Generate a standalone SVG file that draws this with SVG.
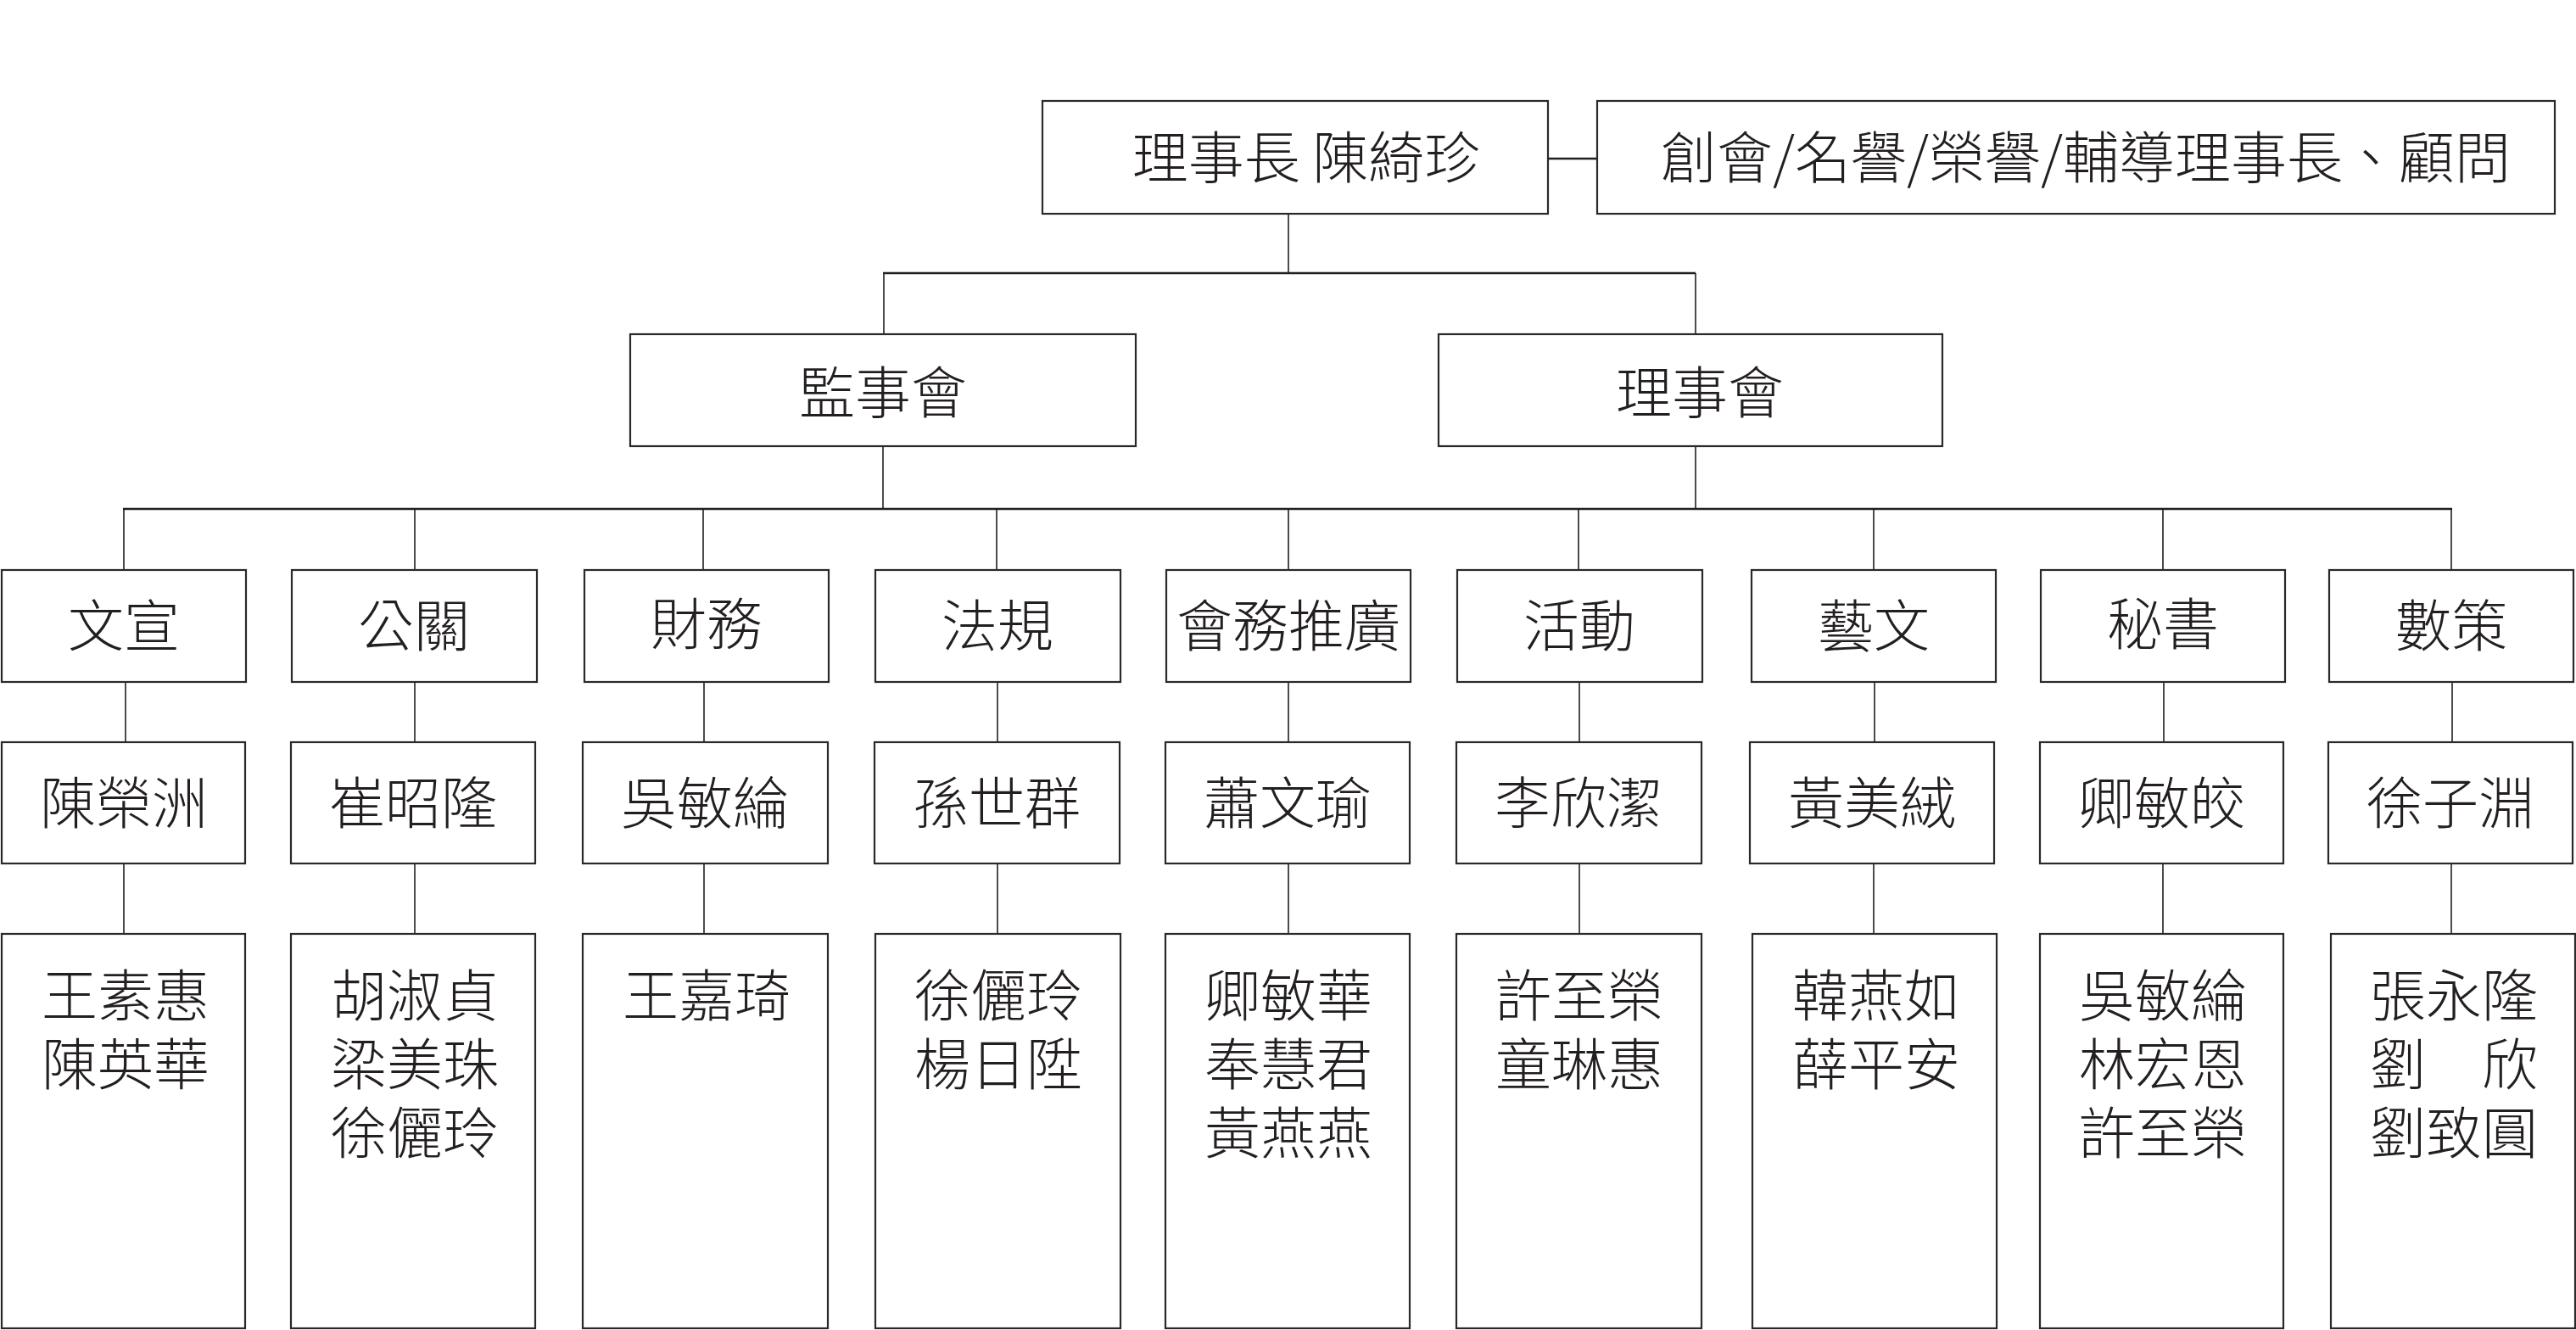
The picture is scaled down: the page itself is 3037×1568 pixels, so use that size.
<svg xmlns="http://www.w3.org/2000/svg" width="3037" height="1568" viewBox="0 0 3037 1568">
<style>
.bg{fill:#ffffff}
.box{fill:#ffffff;stroke:#2b2829;stroke-width:2.2}
.ln{stroke:#231f20;stroke-width:1.6;fill:none}
.bar{stroke:#231f20;stroke-width:2.6;fill:none}
text{font-family:"Noto Sans CJK TC","Noto Sans CJK SC",sans-serif;font-weight:300;font-size:66px;fill:#231f20;text-anchor:middle}
</style>
<rect class="bg" x="0" y="0" width="3037" height="1568"/>
<g id="connectors">
<line class="bar" x1="1825" y1="187" x2="1883" y2="187"/>
<line class="ln" x1="1519" y1="252" x2="1519" y2="322"/>
<line class="bar" x1="1041" y1="322" x2="1999" y2="322"/>
<line class="ln" x1="1042" y1="322" x2="1042" y2="394"/>
<line class="ln" x1="1999" y1="322" x2="1999" y2="394"/>
<line class="ln" x1="1041" y1="526" x2="1041" y2="600"/>
<line class="ln" x1="1999" y1="526" x2="1999" y2="600"/>
<line class="bar" x1="145" y1="600" x2="2891" y2="600"/>
<path class="ln" d="M146 600V672M489 600V672M829 600V672M1175 600V672M1519 600V672M1861 600V672M2209 600V672M2550 600V672M2890 600V672"/>
<path class="ln" d="M148 804V875M489 804V875M830 804V875M1176 804V875M1519 804V875M1862 804V875M2210 804V875M2551 804V875M2891 804V875"/>
<path class="ln" d="M146 1018V1101M489 1018V1101M830 1018V1101M1176 1018V1101M1519 1018V1101M1862 1018V1101M2209 1018V1101M2550 1018V1101M2890 1018V1101"/>
</g>
<g id="chairman"><rect class="box" x="1229" y="119" width="596" height="133"/><text x="1540" y="210">理事長 陳綺珍</text></g>
<g id="honorary"><rect class="box" x="1883" y="119" width="1129" height="133"/><text x="2459" y="210">創會/名譽/榮譽/輔導理事長、顧問</text></g>
<g id="supervisors"><rect class="box" x="743" y="394" width="596" height="132"/><text x="1041" y="487">監事會</text></g>
<g id="directors"><rect class="box" x="1696" y="394" width="594" height="132"/><text x="2004" y="487">理事會</text></g>

<g id="d1"><rect class="box" x="2" y="672" width="288" height="132"/><text x="146" y="762">文宣</text></g>
<g id="d2"><rect class="box" x="344" y="672" width="289" height="132"/><text x="488" y="762">公關</text></g>
<g id="d3"><rect class="box" x="689" y="672" width="288" height="132"/><text x="833" y="760">財務</text></g>
<g id="d4"><rect class="box" x="1032" y="672" width="289" height="132"/><text x="1176" y="762">法規</text></g>
<g id="d5"><rect class="box" x="1375" y="672" width="288" height="132"/><text x="1519" y="762">會務推廣</text></g>
<g id="d6"><rect class="box" x="1718" y="672" width="289" height="132"/><text x="1862" y="762">活動</text></g>
<g id="d7"><rect class="box" x="2065" y="672" width="288" height="132"/><text x="2209" y="762">藝文</text></g>
<g id="d8"><rect class="box" x="2406" y="672" width="288" height="132"/><text x="2550" y="760">秘書</text></g>
<g id="d9"><rect class="box" x="2746" y="672" width="288" height="132"/><text x="2890" y="762">數策</text></g>

<g id="h1"><rect class="box" x="2" y="875" width="287" height="143"/><text x="146" y="971">陳榮洲</text></g>
<g id="h2"><rect class="box" x="343" y="875" width="288" height="143"/><text x="487" y="971">崔昭隆</text></g>
<g id="h3"><rect class="box" x="687" y="875" width="289" height="143"/><text x="831" y="971">吳敏綸</text></g>
<g id="h4"><rect class="box" x="1031" y="875" width="289" height="143"/><text x="1175" y="971">孫世群</text></g>
<g id="h5"><rect class="box" x="1374" y="875" width="288" height="143"/><text x="1518" y="971">蕭文瑜</text></g>
<g id="h6"><rect class="box" x="1717" y="875" width="289" height="143"/><text x="1861" y="971">李欣潔</text></g>
<g id="h7"><rect class="box" x="2063" y="875" width="288" height="143"/><text x="2207" y="971">黃美絨</text></g>
<g id="h8"><rect class="box" x="2405" y="875" width="287" height="143"/><text x="2549" y="971">卿敏皎</text></g>
<g id="h9"><rect class="box" x="2745" y="875" width="288" height="143"/><text x="2889" y="971">徐子淵</text></g>

<g id="m1"><rect class="box" x="2" y="1101" width="287" height="465"/><text x="148" y="1198">王素惠</text><text x="148" y="1279">陳英華</text></g>
<g id="m2"><rect class="box" x="343" y="1101" width="288" height="465"/><text x="489" y="1198">胡淑貞</text><text x="489" y="1279">梁美珠</text><text x="489" y="1360">徐儷玲</text></g>
<g id="m3"><rect class="box" x="687" y="1101" width="289" height="465"/><text x="833" y="1198">王嘉琦</text></g>
<g id="m4"><rect class="box" x="1032" y="1101" width="289" height="465"/><text x="1177" y="1198">徐儷玲</text><text x="1177" y="1279">楊日陞</text></g>
<g id="m5"><rect class="box" x="1374" y="1101" width="288" height="465"/><text x="1519" y="1198">卿敏華</text><text x="1519" y="1279">奉慧君</text><text x="1519" y="1360">黃燕燕</text></g>
<g id="m6"><rect class="box" x="1717" y="1101" width="289" height="465"/><text x="1862" y="1198">許至榮</text><text x="1862" y="1279">童琳惠</text></g>
<g id="m7"><rect class="box" x="2066" y="1101" width="288" height="465"/><text x="2212" y="1198">韓燕如</text><text x="2212" y="1279">薛平安</text></g>
<g id="m8"><rect class="box" x="2405" y="1101" width="287" height="465"/><text x="2550" y="1198">吳敏綸</text><text x="2550" y="1279">林宏恩</text><text x="2550" y="1360">許至榮</text></g>
<g id="m9"><rect class="box" x="2748" y="1101" width="288" height="465"/><text x="2893" y="1198">張永隆</text><text x="2893" y="1279">劉　欣</text><text x="2893" y="1360">劉致圓</text></g>
</svg>
